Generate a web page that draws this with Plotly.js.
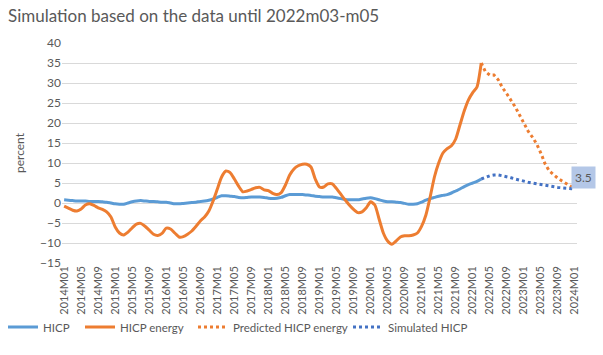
<!DOCTYPE html>
<html>
<head>
<meta charset="utf-8">
<script src="https://cdn.plot.ly/plotly-3.0.1.min.js"></script>
<style>html,body{margin:0;padding:0;background:#fff;}#chart{width:603px;height:355px;}</style>
</head>
<body>
<div id="chart"></div>
<script>
// Months 2014M01 .. 2024M01 (category labels)
var startYear = 2014;
var categories = [];
for (var i = 0; i <= 120; i++) {
  var y = startYear + Math.floor(i / 12);
  var mo = (i % 12) + 1;
  categories.push(y + 'M' + (mo < 10 ? '0' + mo : mo));
}
var tickLabels = categories.filter(function (c, i) { return i % 4 === 0; });

// HICP (actual), 2014M01 .. 2022M03
var hicp = [0.8,0.7,0.6,0.5,0.5,0.5,0.4,0.4,0.4,0.3,0.2,0.0,
  -0.2,-0.3,-0.3,0.0,0.3,0.5,0.6,0.5,0.4,0.4,0.3,0.2,
  0.2,0.0,-0.2,-0.2,-0.1,0.0,0.1,0.2,0.4,0.5,0.7,1.0,
  1.4,1.8,1.8,1.7,1.6,1.4,1.3,1.4,1.5,1.5,1.5,1.4,
  1.2,1.1,1.2,1.4,1.8,2.1,2.1,2.1,2.1,2.0,1.9,1.7,
  1.6,1.5,1.5,1.5,1.3,1.1,0.9,0.8,0.8,0.8,1.0,1.2,
  1.3,1.1,0.8,0.5,0.3,0.3,0.2,0.1,-0.1,-0.3,-0.3,-0.2,
  0.2,0.7,1.1,1.4,1.7,1.9,2.1,2.5,3.0,3.5,4.1,4.6,
  5.0,5.4,6.0];

// HICP energy (actual), 2014M01 .. 2022M03
var hicpEnergy = [-0.8,-1.3,-1.8,-2.0,-1.5,-0.5,-0.2,-0.6,-1.2,-1.6,-2.2,-3.5,
  -6.0,-7.5,-8.0,-7.3,-6.2,-5.3,-5.1,-5.8,-6.8,-7.8,-8.1,-7.6,
  -6.3,-6.5,-7.5,-8.5,-8.4,-7.8,-7.0,-5.8,-4.5,-3.5,-2.0,0.5,
  3.5,6.5,8.0,7.6,6.0,4.2,2.8,3.0,3.4,3.8,3.9,3.3,
  3.1,2.4,2.1,2.6,4.5,7.0,8.5,9.3,9.7,9.7,9.0,6.0,
  4.0,4.0,4.8,4.8,3.6,2.2,0.8,-0.5,-1.6,-2.4,-2.2,-1.2,
  0.3,-0.5,-4.0,-7.5,-9.5,-10.3,-9.5,-8.5,-8.2,-8.2,-8.0,-7.5,
  -5.8,-3.0,1.5,6.5,10.0,12.5,13.6,14.3,16.0,19.5,23.0,25.8,
  27.6,29.0,35.0];

// Predicted HICP energy, 2022M03 .. 2024M01
var predictedEnergy = [35.0,32.8,32.0,32.0,30.8,28.8,27.3,25.8,24.0,22.0,19.8,18.0,
  16.5,14.8,12.5,9.8,8.0,7.0,6.2,5.5,4.8,4.2,3.7];

// Simulated HICP, 2022M03 .. 2024M01
var simulatedHicp = [6.0,6.5,6.8,7.0,7.0,6.8,6.6,6.3,6.0,5.7,5.5,5.2,
  5.0,4.8,4.6,4.4,4.2,4.0,3.9,3.8,3.7,3.6,3.5];

var actualX = categories.slice(0, hicp.length);
var predX = categories.slice(hicp.length - 1, hicp.length - 1 + predictedEnergy.length);

var FONT = 'Lato, "Open Sans", sans-serif';
var GREY = '#595959';

var traces = [
  {x: actualX, y: hicp, name: 'HICP', type: 'scatter', mode: 'lines', legend: 'legend',
   line: {color: '#5b9bd5', width: 3, shape: 'spline', smoothing: 0.6}},
  {x: actualX, y: hicpEnergy, name: 'HICP energy', type: 'scatter', mode: 'lines', legend: 'legend2',
   line: {color: '#ed7d31', width: 3, shape: 'spline', smoothing: 0.6}},
  {x: predX, y: predictedEnergy, name: 'Predicted HICP energy', type: 'scatter', mode: 'lines', legend: 'legend3',
   line: {color: '#ed7d31', width: 3, dash: '3px,3px'}},
  {x: predX, y: simulatedHicp, name: 'Simulated HICP', type: 'scatter', mode: 'lines', legend: 'legend4',
   line: {color: '#4472c4', width: 3, dash: '3px,3px'}}
];

var lastSim = simulatedHicp[simulatedHicp.length - 1];

function leg(px) {
  return {orientation: 'h', xref: 'container', x: px / 603, xanchor: 'left',
          yref: 'container', y: 1 - 327 / 355, yanchor: 'middle',
          font: {size: 11.5, color: GREY}, itemwidth: 30, bgcolor: 'rgba(0,0,0,0)'};
}

var layout = {
  width: 603, height: 355,
  margin: {l: 62, r: 26, t: 43, b: 92},
  paper_bgcolor: '#ffffff', plot_bgcolor: '#ffffff',
  font: {family: FONT, color: GREY, size: 11},
  showlegend: true,
  title: {text: 'Simulation based on the data until 2022m03-m05',
          x: 8 / 603, xref: 'container', xanchor: 'left',
          y: 1 - 16 / 355, yref: 'container', yanchor: 'middle',
          font: {family: FONT, size: 17, color: GREY}},
  xaxis: {type: 'category', categoryorder: 'array', categoryarray: categories,
          range: [-0.5, categories.length - 0.5],
          tickmode: 'array', tickvals: tickLabels, ticktext: tickLabels,
          tickangle: -90, tickfont: {size: 11, color: GREY},
          showgrid: false, zeroline: false, showline: false, ticks: '', fixedrange: true},
  yaxis: {range: [-15, 40], tickmode: 'linear', tick0: -15, dtick: 5,
          showgrid: true, gridcolor: '#d9d9d9', gridwidth: 1,
          zeroline: false, showline: false, ticks: '',
          tickfont: {size: 12, color: GREY},
          title: {text: 'percent', font: {size: 12, color: GREY}, standoff: 12},
          fixedrange: true},
  legend: leg(3),
  legend2: leg(80),
  legend3: leg(193),
  legend4: leg(348),
  annotations: [{x: categories[categories.length - 1], y: lastSim, xref: 'x', yref: 'y',
                 text: String(lastSim), showarrow: false, xanchor: 'left', yanchor: 'bottom',
                 xshift: -4, yshift: 0, bgcolor: '#b4c7e7', borderpad: 3,
                 font: {size: 12, color: GREY}}],
  hovermode: false
};

Plotly.newPlot('chart', traces, layout, {displayModeBar: false, staticPlot: true});
</script>
</body>
</html>
